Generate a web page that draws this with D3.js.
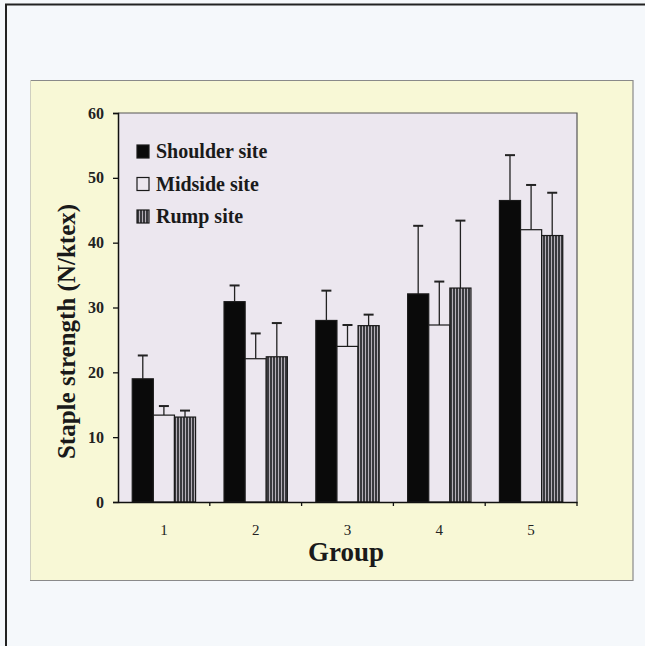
<!DOCTYPE html>
<html>
<head>
<meta charset="utf-8">
<script src="https://cdn.jsdelivr.net/npm/d3@7"></script>
<style>
  body { margin: 0; background: #f5f8fb; }
  svg { display: block; }
</style>
</head>
<body>
<svg id="chart" width="645" height="646"></svg>
<script>
var groups = ["1", "2", "3", "4", "5"];
var sites = ["Shoulder site", "Midside site", "Rump site"];
var shoulder = [19.0, 30.9, 28.0, 32.1, 46.5];
var midside = [13.4, 22.1, 24.0, 27.3, 42.0];
var rump = [13.1, 22.4, 27.2, 33.0, 41.1];
var shoulderErr = [3.6, 2.5, 4.6, 10.5, 7.0];
var midsideErr = [1.4, 3.9, 3.3, 6.7, 6.9];
var rumpErr = [1.0, 5.2, 1.7, 10.4, 6.6];
var yTicks = [0, 10, 20, 30, 40, 50, 60];

var svg = d3.select("#chart");
var serif = "'Liberation Serif', 'DejaVu Serif', serif";

function makestripes(svg) {
  var defs = svg.append("defs");
  var pattern = defs.append("pattern")
      .attr("id", "stripes")
      .attr("patternUnits", "userSpaceOnUse")
      .attr("width", 3)
      .attr("height", 3);
  pattern.append("rect").attr("width", 3).attr("height", 3).attr("fill", "#3a3a3e");
  pattern.append("rect").attr("x", 2).attr("width", 1).attr("height", 3).attr("fill", "#b5b0b8");
}
makestripes(svg);

// outer frame
svg.append("path")
  .attr("d", "M6,646V4.5H645")
  .attr("fill", "none").attr("stroke", "#222").attr("stroke-width", 2);

// yellow chart area
svg.append("rect")
  .attr("x", 30).attr("y", 80).attr("width", 603).attr("height", 500)
  .attr("fill", "#f8f8d6");
svg.append("path")
  .attr("d", "M30,80.5H633V580.5H30")
  .attr("fill", "none").attr("stroke", "#8a8a8a").attr("stroke-width", 1.2);
svg.append("line")
  .attr("x1", 30.5).attr("x2", 30.5).attr("y1", 80).attr("y2", 580)
  .attr("stroke", "#cfcfc0");

var margin = {left: 118, top: 113, right: 577, bottom: 502};

var x0 = d3.scaleBand().domain(groups).range([margin.left, margin.right]).paddingInner(0.31).paddingOuter(0.155);
var x1 = d3.scaleBand().domain(sites).range([0, x0.bandwidth()]);
var y = d3.scaleLinear().domain([0, 60]).range([margin.bottom, margin.top]);

// plot background
svg.append("rect")
  .attr("x", margin.left).attr("y", margin.top)
  .attr("width", margin.right - margin.left).attr("height", margin.bottom - margin.top)
  .attr("fill", "#ece7ef");
svg.append("path")
  .attr("d", "M" + margin.left + "," + margin.top + "H" + margin.right + "V" + margin.bottom)
  .attr("fill", "none").attr("stroke", "#555").attr("stroke-width", 1.2);

var rows = [];
groups.forEach(function(g, i) {
  rows.push({g: g, site: sites[0], v: shoulder[i], e: shoulderErr[i]});
  rows.push({g: g, site: sites[1], v: midside[i], e: midsideErr[i]});
  rows.push({g: g, site: sites[2], v: rump[i], e: rumpErr[i]});
});

var fills = {"Shoulder site": "#0a0a0a", "Midside site": "#ece7ef", "Rump site": "url(#stripes)"};

// error bars (upward only)
var eb = svg.append("g").selectAll("g").data(rows).enter().append("g")
  .attr("stroke", "#222").attr("stroke-width", 1.3);
eb.append("line")
  .attr("x1", function(d) { return x0(d.g) + x1(d.site) + x1.bandwidth() / 2; })
  .attr("x2", function(d) { return x0(d.g) + x1(d.site) + x1.bandwidth() / 2; })
  .attr("y1", function(d) { return y(d.v); })
  .attr("y2", function(d) { return y(d.v + d.e); });
eb.append("line")
  .attr("x1", function(d) { return x0(d.g) + x1(d.site) + x1.bandwidth() / 2 - 5; })
  .attr("x2", function(d) { return x0(d.g) + x1(d.site) + x1.bandwidth() / 2 + 5; })
  .attr("y1", function(d) { return y(d.v + d.e); })
  .attr("y2", function(d) { return y(d.v + d.e); })
  .attr("stroke-width", 2);

// bars
svg.append("g").selectAll("rect").data(rows).enter().append("rect")
  .attr("x", function(d) { return x0(d.g) + x1(d.site); })
  .attr("y", function(d) { return y(d.v); })
  .attr("width", x1.bandwidth())
  .attr("height", function(d) { return y(0) - y(d.v); })
  .attr("fill", function(d) { return fills[d.site]; })
  .attr("stroke", "#1a1a1a")
  .attr("stroke-width", 1.2);

// y axis
var yAxis = svg.append("g")
  .attr("transform", "translate(" + margin.left + ",0)")
  .call(d3.axisLeft(y).tickValues(yTicks).tickSize(5).tickPadding(9));
yAxis.select(".domain").attr("stroke", "#111").attr("stroke-width", 1.5);
yAxis.selectAll(".tick line").attr("stroke", "#111").attr("stroke-width", 1.3);
yAxis.selectAll("text")
  .attr("font-family", serif).attr("font-size", 16).attr("font-weight", "bold").attr("fill", "#222");

// x axis
var xAxis = svg.append("g")
  .attr("transform", "translate(0," + margin.bottom + ")")
  .call(d3.axisBottom(x0).tickSize(0).tickPadding(22));
xAxis.select(".domain").attr("stroke", "#111").attr("stroke-width", 1.5);
xAxis.selectAll("text")
  .attr("font-family", serif).attr("font-size", 15).attr("fill", "#222");
var step = x0.step();
xAxis.selectAll(".sep").data(d3.range(1, groups.length + 1)).enter().append("line")
  .attr("x1", function(i) { return margin.left + i * step; })
  .attr("x2", function(i) { return margin.left + i * step; })
  .attr("y1", 0).attr("y2", 4)
  .attr("stroke", "#111").attr("stroke-width", 1.3);

// axis titles
svg.append("text")
  .attr("transform", "translate(75," + ((margin.top + margin.bottom) / 2 + 24) + ") rotate(-90)")
  .attr("text-anchor", "middle")
  .attr("font-family", serif).attr("font-size", 25).attr("font-weight", "bold").attr("fill", "#1a1a1a")
  .text("Staple strength (N/ktex)");
svg.append("text")
  .attr("x", 346).attr("y", 561)
  .attr("text-anchor", "middle")
  .attr("font-family", serif).attr("font-size", 27).attr("font-weight", "bold").attr("fill", "#1a1a1a")
  .text("Group");

// legend
var legend = svg.append("g").attr("transform", "translate(137,145)");
var item = legend.selectAll("g").data(sites).enter().append("g")
  .attr("transform", function(d, i) { return "translate(0," + i * 32.5 + ")"; });
item.append("rect")
  .attr("width", 12).attr("height", 13)
  .attr("fill", function(d) { return fills[d]; })
  .attr("stroke", "#1a1a1a").attr("stroke-width", 1.2);
item.append("text")
  .attr("x", 19).attr("y", 13)
  .attr("font-family", serif).attr("font-size", 20).attr("font-weight", "bold").attr("fill", "#1a1a1a")
  .text(function(d) { return d; });
</script>
</body>
</html>
